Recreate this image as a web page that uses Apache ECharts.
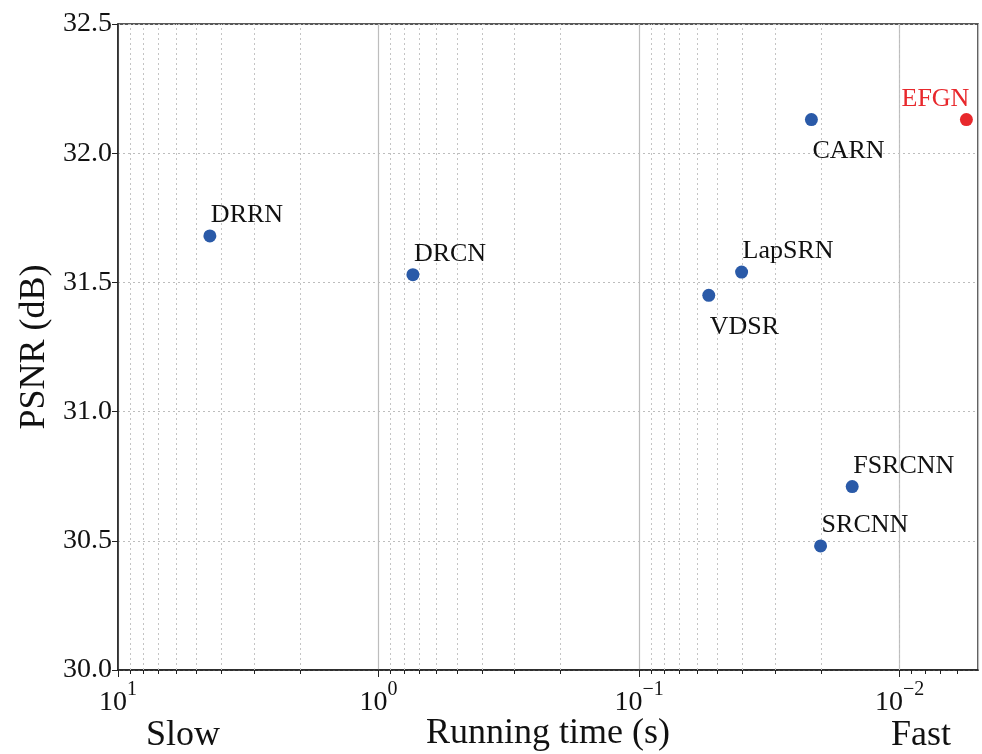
<!DOCTYPE html>
<html>
<head>
<meta charset="utf-8">
<script src="https://cdn.jsdelivr.net/npm/echarts@6/dist/echarts.min.js"></script>
<style>
  html, body { margin: 0; padding: 0; background: #fff; }
  #chart { width: 982px; height: 754px; }
</style>
</head>
<body>
<div id="chart"></div>
<script>
// 方法名、运行时间(s)、PSNR(dB)
const methods = ['DRRN', 'DRCN', 'LapSRN', 'VDSR', 'CARN', 'EFGN', 'FSRCNN', 'SRCNN'];
const runTime = [4.44, 0.738, 0.0404, 0.054, 0.0218, 0.00554, 0.0152, 0.0201];
const psnr = [31.68, 31.53, 31.54, 31.45, 32.13, 32.13, 30.71, 30.48];
const yTicks = [30.0, 30.5, 31.0, 31.5, 32.0, 32.5];

const FONT = 'Liberation Serif';
const BLUE = '#2a5aa8';
const RED = '#e8282c';

// 标签放在点的上方或下方（样式，不是数据）
const labelSide = {
  DRRN: 'top', DRCN: 'top', LapSRN: 'top', VDSR: 'bottom',
  CARN: 'bottom', EFGN: 'topRight', FSRCNN: 'top', SRCNN: 'top'
};

// 对数轴的次刻度 2..9 × 10^k
const minorVals = [];
for (let k = -3; k <= 0; k++) {
  for (let m = 2; m <= 9; m++) {
    const v = m * Math.pow(10, k);
    if (v > 0.005 && v < 10) minorVals.push(v);
  }
}

function labelFor(name) {
  const side = labelSide[name];
  const base = { show: true, formatter: name, fontFamily: FONT, fontSize: 26,
    color: name === 'EFGN' ? RED : '#111' };
  if (side === 'bottom') return Object.assign(base, { position: 'bottom', align: 'left', offset: [1, 7] });
  if (side === 'topRight') return Object.assign(base, { position: 'top', align: 'right', offset: [3, 4] });
  return Object.assign(base, { position: 'top', align: 'left', offset: [1, 4] });
}

const points = methods.map((name, i) => ({
  name: name,
  value: [runTime[i], psnr[i]],
  itemStyle: { color: name === 'EFGN' ? RED : BLUE, opacity: 1 },
  label: labelFor(name)
}));

const chart = echarts.init(document.getElementById('chart'));
const option = {
  animation: false,
  grid: {
    left: 118, top: 24, width: 860, height: 646,
    outerBoundsMode: 'none', containLabel: false,
    show: true, borderColor: '#222', borderWidth: 1.5
  },
  xAxis: [
    {
      type: 'log',
      logBase: 10,
      min: 0.005,
      max: 10,
      inverse: true,
      name: 'Running time (s)',
      nameLocation: 'middle',
      nameGap: 46,
      nameMoveOverlap: false,
      nameTextStyle: { fontFamily: FONT, fontSize: 36, color: '#111' },
      axisLine: { lineStyle: { color: '#222', width: 1.5 } },
      axisTick: { length: 7, lineStyle: { color: '#222' } },
      axisLabel: {
        showMinLabel: false,
        margin: 10,
        formatter: function (v) {
          const e = Math.log10(v);
          const r = Math.round(e);
          if (Math.abs(e - r) > 1e-6) return '';
          return '{b|10}{s|' + (r < 0 ? '\u2212' + (-r) : r) + '}';
        },
        rich: {
          b: { fontFamily: FONT, fontSize: 28, color: '#111' },
          s: { fontFamily: FONT, fontSize: 20, color: '#111', padding: [0, 0, 26, 0] }
        }
      },
      splitLine: { show: true, lineStyle: { color: '#bdbdbd', width: 1.2 } }
    },
    {
      // 次刻度
      type: 'log',
      logBase: 10,
      min: 0.005,
      max: 10,
      inverse: true,
      position: 'bottom',
      axisLine: { show: false },
      axisTick: { show: true, length: 4, customValues: minorVals, lineStyle: { color: '#222' } },
      axisLabel: { show: false },
      splitLine: { show: false }
    }
  ],
  yAxis: {
    type: 'value',
    min: yTicks[0],
    max: yTicks[yTicks.length - 1],
    interval: 0.5,
    name: 'PSNR (dB)',
    nameLocation: 'middle',
    nameGap: 65,
    nameMoveOverlap: false,
    nameTextStyle: { fontFamily: FONT, fontSize: 36, color: '#111' },
    axisLine: { show: true, lineStyle: { color: '#222', width: 1.5 } },
    axisTick: { show: true, length: 6, lineStyle: { color: '#222' } },
    axisLabel: {
      fontFamily: FONT, fontSize: 28, color: '#111', margin: 6,
      formatter: function (v) { return v.toFixed(1); }
    },
    splitLine: { show: true, lineStyle: { color: '#bdbdbd', type: [2, 3] } }
  },
  graphic: [
    { type: 'text', left: 146, top: 718, style: { text: 'Slow', font: '36px "Liberation Serif"', fill: '#111' } },
    { type: 'text', left: 891, top: 718, style: { text: 'Fast', font: '36px "Liberation Serif"', fill: '#111' } }
  ],
  series: [
    {
      type: 'scatter',
      symbolSize: 13,
      data: points,
      markLine: {
        silent: true,
        symbol: 'none',
        label: { show: false },
        lineStyle: { color: '#c4c4c4', type: [2, 3], width: 1 },
        data: minorVals.map(v => ({ xAxis: v })),
        z: 1
      }
    }
  ]
};
chart.setOption(option);
</script>
</body>
</html>
